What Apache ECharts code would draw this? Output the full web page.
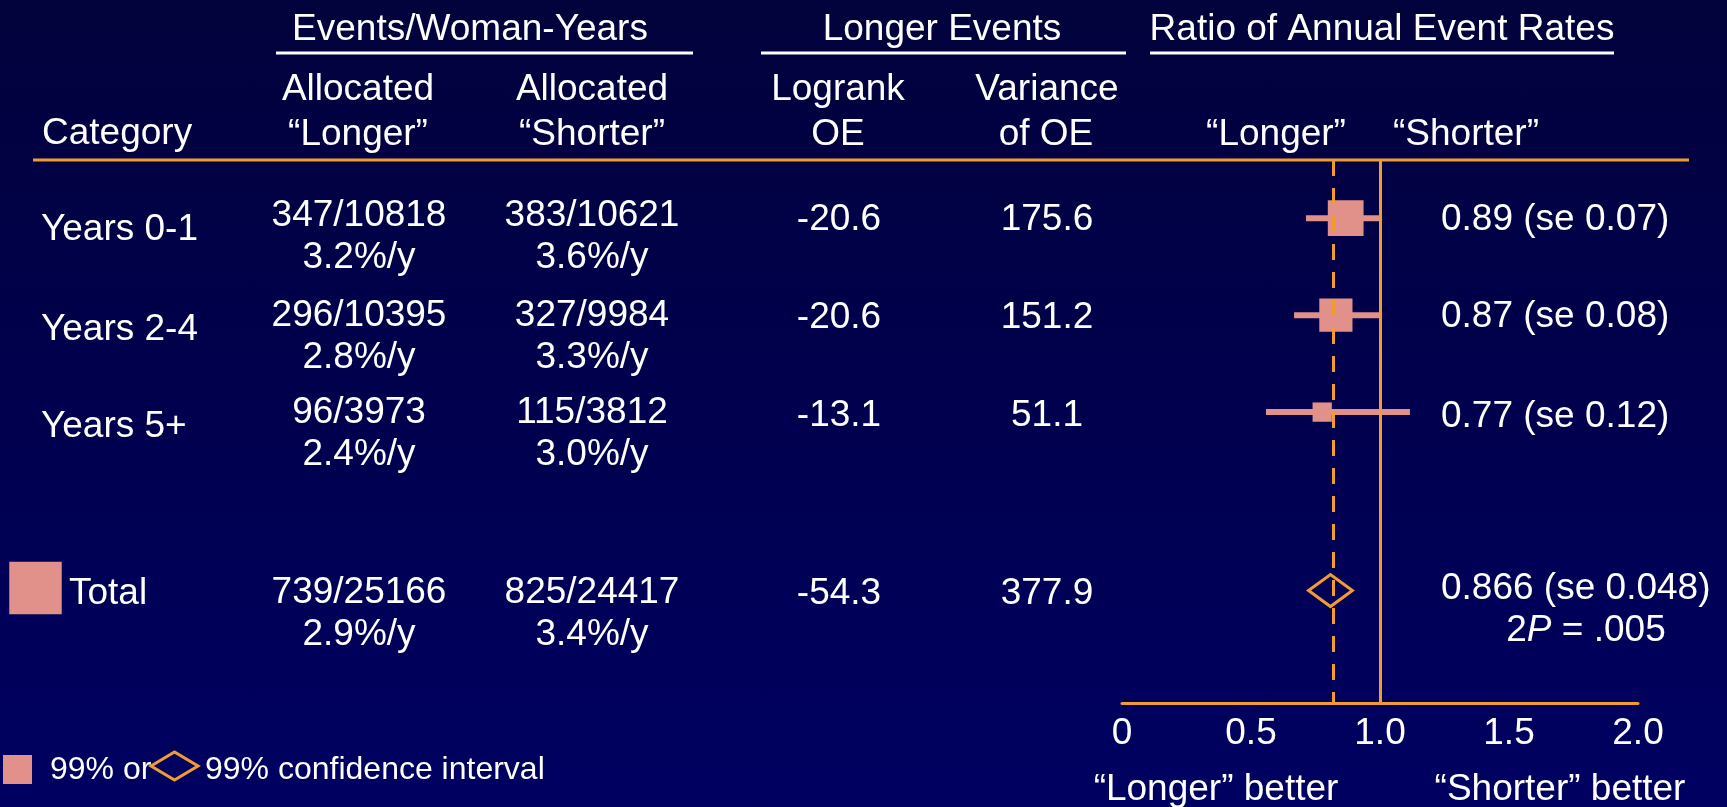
<!DOCTYPE html>
<html>
<head>
<meta charset="utf-8">
<script src="https://cdn.jsdelivr.net/npm/echarts@6/dist/echarts.min.js"></script>
<style>
  html, body { margin: 0; padding: 0; }
  #chart {
    width: 1727px;
    height: 807px;
    background: linear-gradient(to bottom, #02023c 0%, #00004e 50%, #000062 100%);
  }
</style>
</head>
<body>
<div id="chart"></div>
<script>
  // table values
  var categories = ['Years 0-1', 'Years 2-4', 'Years 5+', 'Total'];
  var longerEvents = ['347/10818', '296/10395', '96/3973', '739/25166'];
  var longerRate = ['3.2%/y', '2.8%/y', '2.4%/y', '2.9%/y'];
  var shorterEvents = ['383/10621', '327/9984', '115/3812', '825/24417'];
  var shorterRate = ['3.6%/y', '3.3%/y', '3.0%/y', '3.4%/y'];
  var logrankOE = [-20.6, -20.6, -13.1, -54.3];
  var varianceOE = [175.6, 151.2, 51.1, 377.9];
  var ratioText = ['0.89 (se 0.07)', '0.87 (se 0.08)', '0.77 (se 0.12)', '0.866 (se 0.048)'];

  // plotted ratio positions, as drawn in the picture
  var ratioEst = [0.867, 0.829, 0.776, 0.808];
  var ciLow = [0.713, 0.667, 0.558, 0.723];
  var ciHigh = [1.008, 1.008, 1.116, 0.893];
  var overallLine = 0.823;
  var nullLine = 1.0;
  var xTickLabels = ['0', '0.5', '1.0', '1.5', '2.0'];

  var ORANGE = '#f29b30';
  var PINK = '#e1908a';
  var FONT = '"Liberation Sans", Arial, sans-serif';
  var FS = 37;
  var DY = 3; // canvas 'middle' sits a little above the cap centre

  // vertical slots on the hidden y axis (layout)
  var rowSlot = [1, 2, 3, 4.84];

  var chart = echarts.init(document.getElementById('chart'), null, { renderer: 'canvas' });

  function txt(text, x, y, align, size, extra) {
    var style = {
      text: text,
      fill: '#ffffff',
      fontSize: size || FS,
      fontFamily: FONT,
      align: align || 'center',
      verticalAlign: 'middle',
      textAlign: align || 'center',
      textVerticalAlign: 'middle'
    };
    if (extra) { for (var k in extra) style[k] = extra[k]; }
    return { type: 'text', x: x, y: y + DY, silent: true, style: style };
  }

  function hline(x1, x2, y, color) {
    return {
      type: 'line', silent: true,
      shape: { x1: x1, y1: y, x2: x2, y2: y },
      style: { stroke: color, lineWidth: 3 }
    };
  }

  var graphics = [];
  // column headers
  graphics.push(txt('Events/Woman-Years', 470, 27));
  graphics.push(txt('Longer Events', 942, 27));
  graphics.push(txt('Ratio of Annual Event Rates', 1382, 27));
  graphics.push(hline(276, 693, 53, '#ffffff'));
  graphics.push(hline(761, 1126, 53, '#ffffff'));
  graphics.push(hline(1150, 1614, 53, '#ffffff'));
  graphics.push(txt('Allocated', 358, 87));
  graphics.push(txt('Allocated', 592, 87));
  graphics.push(txt('Logrank', 838, 87));
  graphics.push(txt('Variance', 1047, 87));
  graphics.push(txt('Category', 42, 131, 'left'));
  graphics.push(txt('\u201cLonger\u201d', 358, 132));
  graphics.push(txt('\u201cShorter\u201d', 592, 132));
  graphics.push(txt('OE', 838, 132));
  graphics.push(txt('of OE', 1046, 132));
  graphics.push(txt('\u201cLonger\u201d', 1276, 132));
  graphics.push(txt('\u201cShorter\u201d', 1466, 132));
  graphics.push(hline(33, 1689, 160, ORANGE));

  // rows
  var line1Y = [213, 313, 410, 590];
  var line2Y = [255, 355, 452, 632];
  var catY = [227, 327, 424, 591];
  var oeY = [217, 315, 413, 591];
  var ratioY = [217, 314, 414, 586];
  categories.forEach(function (c, i) {
    var isTotal = i === categories.length - 1;
    graphics.push(txt(c, isTotal ? 69 : 41, catY[i], 'left'));
    graphics.push(txt(longerEvents[i], 359, line1Y[i]));
    graphics.push(txt(longerRate[i], 359, line2Y[i]));
    graphics.push(txt(shorterEvents[i], 592, line1Y[i]));
    graphics.push(txt(shorterRate[i], 592, line2Y[i]));
    graphics.push(txt(logrankOE[i].toFixed(1), 839, oeY[i]));
    graphics.push(txt(varianceOE[i].toFixed(1), 1047, oeY[i]));
    graphics.push(txt(ratioText[i], 1441, ratioY[i], 'left'));
  });
  graphics.push(txt('2{i|P} = .005', 1586, 628, 'center', FS, {
    rich: { i: { fontStyle: 'italic', fontSize: FS, fontFamily: FONT, fill: '#ffffff' } }
  }));

  // total marker box
  var totalSide = Math.sqrt(varianceOE[3]) * 2.7;
  graphics.push({
    type: 'rect', silent: true,
    shape: { x: 35.5 - totalSide / 2, y: 588 - totalSide / 2, width: totalSide, height: totalSide },
    style: { fill: PINK }
  });

  // axis captions
  graphics.push(txt('\u201cLonger\u201d better', 1216, 787));
  graphics.push(txt('\u201cShorter\u201d better', 1560, 787));

  // key
  graphics.push({
    type: 'rect', silent: true,
    shape: { x: 3, y: 755, width: 29, height: 29 },
    style: { fill: PINK }
  });
  graphics.push(txt('99% or', 50, 767, 'left', 32));
  graphics.push({
    type: 'polygon', silent: true,
    shape: { points: [[151, 766], [174.5, 752], [198, 766], [174.5, 780]] },
    style: { fill: 'none', stroke: ORANGE, lineWidth: 3 }
  });
  graphics.push(txt('99% confidence interval', 205, 767, 'left', 32));

  var rowData = [];
  var totalData = [];
  categories.forEach(function (c, i) {
    var item = [ratioEst[i], ciLow[i], ciHigh[i], rowSlot[i], varianceOE[i]];
    if (i < categories.length - 1) rowData.push(item); else totalData.push(item);
  });

  function renderRow(params, api) {
    var mid = api.coord([api.value(0), api.value(3)]);
    var lo = api.coord([api.value(1), api.value(3)]);
    var hi = api.coord([api.value(2), api.value(3)]);
    var side = Math.sqrt(api.value(4)) * 2.7;
    return {
      type: 'group',
      children: [
        { type: 'rect', shape: { x: lo[0], y: mid[1] - 3, width: hi[0] - lo[0], height: 6 }, style: { fill: PINK } },
        { type: 'rect', shape: { x: mid[0] - side / 2, y: mid[1] - side / 2, width: side, height: side }, style: { fill: PINK } }
      ]
    };
  }

  function renderDiamond(params, api) {
    var mid = api.coord([api.value(0), api.value(3)]);
    var lo = api.coord([api.value(1), api.value(3)]);
    var hi = api.coord([api.value(2), api.value(3)]);
    return {
      type: 'polygon',
      shape: { points: [[lo[0], mid[1]], [mid[0], mid[1] - 16], [hi[0], mid[1]], [mid[0], mid[1] + 16]] },
      style: { fill: 'none', stroke: ORANGE, lineWidth: 3 }
    };
  }

  var option = {
    backgroundColor: 'transparent',
    animation: false,
    textStyle: { fontFamily: FONT },
    grid: { left: 1122, right: 89, top: 160, bottom: 104 },
    xAxis: {
      type: 'value',
      min: 0,
      max: 2,
      interval: 0.5,
      axisLine: { show: true, lineStyle: { color: ORANGE, width: 3 } },
      axisTick: { show: false },
      splitLine: { show: false },
      axisLabel: {
        color: '#ffffff',
        fontSize: FS,
        fontFamily: FONT,
        margin: 12,
        formatter: function (v) { return xTickLabels[Math.round(v / 0.5)]; }
      }
    },
    yAxis: {
      type: 'value',
      min: 0.4,
      max: 6,
      inverse: true,
      show: false
    },
    series: [
      {
        type: 'custom',
        name: 'reference',
        data: totalData,
        renderItem: renderDiamond,
        z: 3,
        markLine: {
          silent: true,
          symbol: 'none',
          label: { show: false },
          data: [
            { xAxis: overallLine, lineStyle: { color: ORANGE, width: 3, type: [16, 12] } },
            { xAxis: nullLine, lineStyle: { color: ORANGE, width: 3, type: 'solid' } }
          ]
        }
      },
      {
        type: 'custom',
        name: 'rows',
        data: rowData,
        renderItem: renderRow,
        z: 4
      }
    ],
    graphic: { elements: graphics }
  };

  chart.setOption(option);
</script>
</body>
</html>
